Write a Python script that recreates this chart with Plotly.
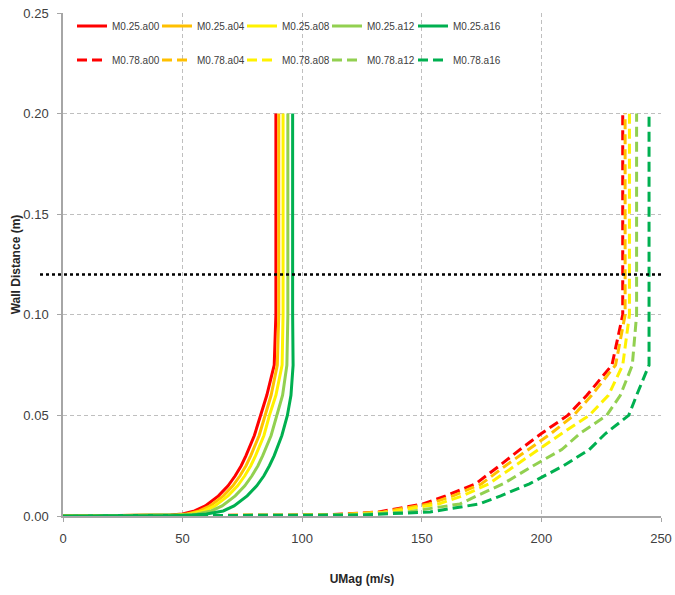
import plotly.graph_objects as go

# ---------------- data ----------------
colors = ["#FF0000", "#FFC000", "#FFF200", "#92D050", "#00B050"]
suffixes = ["a00", "a04", "a08", "a12", "a16"]

# M0.25 series (solid)
y_m025 = [0, 0.0005, 0.001, 0.0025, 0.005, 0.0075, 0.01, 0.015, 0.02, 0.025,
          0.03, 0.04, 0.05, 0.06, 0.075, 0.10, 0.15, 0.20]
u_m025_a00 = [0, 45, 50, 55, 59.5, 62.5, 65, 69, 72, 74.5, 76.5, 80, 82.6, 85.2, 88.3, 89, 89, 89]
u_m025_a04 = [0, 47, 52, 57, 61.5, 64.5, 67, 71, 74, 76.5, 78.5, 82, 84.4, 87, 89.6, 90.2, 90.2, 90.2]
u_m025_a08 = [0, 48, 53.5, 59, 63.5, 66.5, 69, 73, 76, 78.5, 80.5, 84, 86.3, 89, 91.6, 92, 92, 92]
u_m025_a12 = [0, 50, 56, 62, 66.5, 69.5, 72, 76, 79, 81.5, 83.5, 87, 89.4, 91.8, 93.6, 94, 94, 94]
u_m025_a16 = [0, 54, 60, 67, 71.5, 74.5, 77, 81, 84, 86.3, 88.3, 91.5, 93.8, 95.3, 96.2, 96, 96, 96]

# M0.78 series (dashed)
y_m078 = [0, 0.0005, 0.002, 0.006, 0.01, 0.016, 0.025, 0.033, 0.041, 0.05,
          0.06, 0.075, 0.10, 0.15, 0.20]
u_m078_a00 = [0, 110, 132, 150.5, 160, 172.5, 182.5, 191, 200, 211, 219, 229.5, 234, 234, 234]
u_m078_a04 = [0, 112, 134, 153, 163, 175, 185, 194.5, 204, 213.5, 221, 231, 235, 235, 235]
u_m078_a08 = [0, 115, 137, 157, 167, 178, 189, 198.7, 208.5, 220, 228, 234, 236.8, 236.8, 236.8]
u_m078_a12 = [0, 120, 144, 166, 173, 184, 196.6, 208.5, 216.1, 227.3, 233, 238, 239.8, 239.8, 239.8]
u_m078_a16 = [0, 125, 153.5, 174, 183, 195, 209.3, 220, 226.8, 236.5, 239.8, 245, 245, 245, 245]

x_ticks = [0, 50, 100, 150, 200, 250]
y_ticks = [0.00, 0.05, 0.10, 0.15, 0.20, 0.25]
y_ticklabels = ["0.00", "0.05", "0.10", "0.15", "0.20", "0.25"]
ref_line_y = 0.12

m025 = [u_m025_a00, u_m025_a04, u_m025_a08, u_m025_a12, u_m025_a16]
m078 = [u_m078_a00, u_m078_a04, u_m078_a08, u_m078_a12, u_m078_a16]

FONT = "Liberation Sans, Arial, sans-serif"
FW, FH = 675, 595
ML, MR, MT, MB = 63, 14, 13, 79
PW, PH = FW - ML - MR, FH - MT - MB

# legend column starts (px) and row centres (px)
legend_cols_px = [72, 157, 242, 327, 413]
legend_rows_px = [26, 60]

fig = go.Figure()
layout_legends = {}
k = 0
for row, (prefix, series, dash) in enumerate([("M0.25.", m025, None), ("M0.78.", m078, "10px,5px")]):
    for i, (s, c, u) in enumerate(zip(suffixes, colors, series)):
        k += 1
        lname = "legend" if k == 1 else "legend%d" % k
        y_arr = y_m025 if row == 0 else y_m078
        fig.add_trace(go.Scatter(x=u, y=y_arr, mode="lines", name=prefix + s,
                                 line=dict(color=c, width=3, dash=dash), legend=lname,
                                 showlegend=True))
        layout_legends[lname] = dict(
            x=(legend_cols_px[i] - ML) / PW, xanchor="left",
            y=1 - (legend_rows_px[row] - MT) / PH, yanchor="middle",
            font=dict(size=10, color="#404040", family=FONT),
            bgcolor="rgba(0,0,0,0)", itemwidth=30, borderwidth=0)

# dotted reference line
fig.add_shape(type="line", xref="paper", yref="y", x0=-23 / PW, x1=1.0,
              y0=ref_line_y, y1=ref_line_y,
              line=dict(color="black", width=2.5, dash="dot"))

grid = "#BFBFBF"
fig.update_layout(
    width=FW, height=FH, showlegend=True,
    margin=dict(l=ML, r=MR, t=MT, b=MB, autoexpand=False),
    paper_bgcolor="white", plot_bgcolor="white",
    font=dict(family=FONT, color="#404040", size=13),
    xaxis=dict(range=[0, 250], tickvals=x_ticks, showgrid=True, gridcolor=grid,
               griddash="4px,3px", gridwidth=1, zeroline=False, automargin=False,
               showline=True, linecolor="#A6A6A6", linewidth=1.5,
               ticks="outside", ticklen=4, tickcolor="#A6A6A6", ticklabelstandoff=6,
               ticklabeloverflow="allow",
               tickfont=dict(size=13, color="#404040"),
               title=dict(text="<b>UMag (m/s)</b>", font=dict(size=12, color="#262626"), standoff=29)),
    yaxis=dict(range=[0, 0.25], tickvals=y_ticks, ticktext=y_ticklabels, showgrid=True,
               gridcolor=grid, griddash="4px,3px", gridwidth=1, zeroline=False, automargin=False,
               showline=True, linecolor="#A6A6A6", linewidth=1.5,
               ticks="outside", ticklen=4, tickcolor="#A6A6A6", ticklabelstandoff=6,
               ticklabeloverflow="allow",
               tickfont=dict(size=13, color="#404040"),
               title=dict(text="<b>Wall Distance (m)</b>", font=dict(size=12, color="#262626"), standoff=0)),
    **layout_legends,
)
fig.write_html("out.html", config={"displayModeBar": False},
               post_script="document.body.style.margin='0px';document.body.style.overflow='hidden';")
